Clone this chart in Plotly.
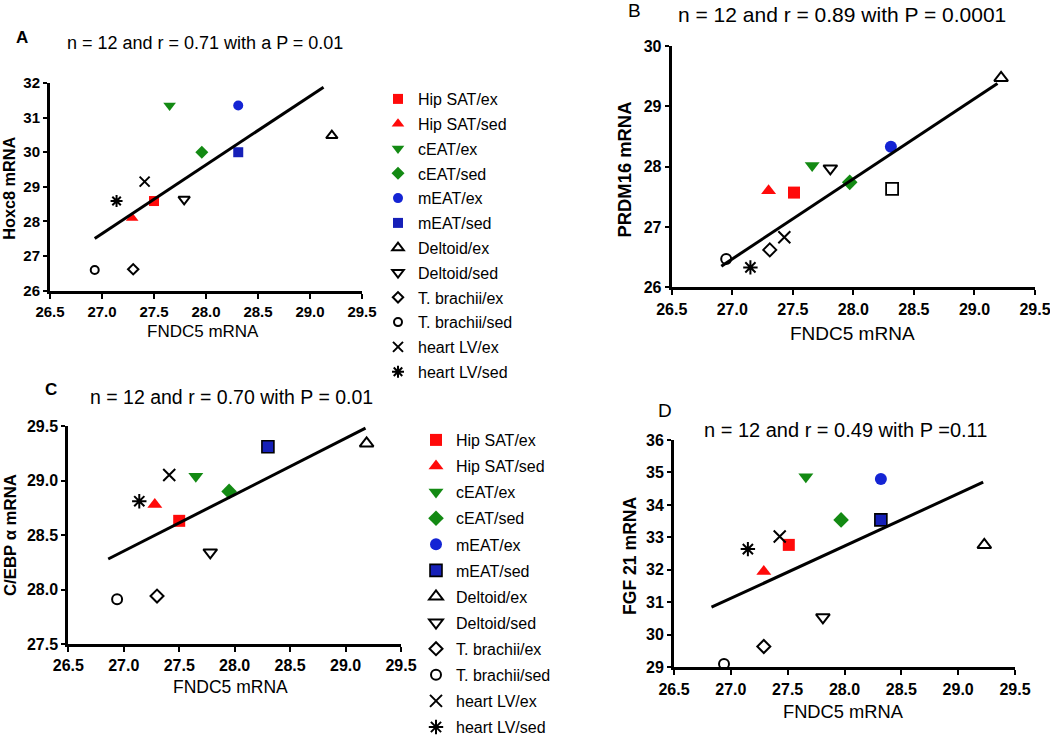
import plotly.graph_objects as go

W, H = 1050, 736
FONT = "Liberation Sans, Arial, sans-serif"

categories = ["Hip SAT/ex", "Hip SAT/sed", "cEAT/ex", "cEAT/sed", "mEAT/ex", "mEAT/sed",
              "Deltoid/ex", "Deltoid/sed", "T. brachii/ex", "T. brachii/sed",
              "heart LV/ex", "heart LV/sed"]

fndc5_A = [27.50, 27.29, 27.65, 27.96, 28.31, 28.31, 29.21, 27.79, 27.30, 26.93, 27.41, 27.14]
hoxc8_A = [28.59, 28.10, 31.35, 30.00, 31.35, 30.00, 30.48, 28.64, 26.62, 26.60, 29.15, 28.59]

fndc5_B = [27.51, 27.30, 27.66, 27.97, 28.31, 28.32, 29.22, 27.81, 27.31, 26.95, 27.43, 27.15]
prdm16_B = [27.57, 27.60, 28.02, 27.74, 28.33, 27.63, 29.47, 27.97, 26.62, 26.47, 26.83, 26.33]

fndc5_C = [27.50, 27.28, 27.65, 27.95, 28.30, 28.30, 29.19, 27.78, 27.30, 26.94, 27.41, 27.14]
cebpa_C = [28.63, 28.78, 29.04, 28.90, 29.31, 29.31, 29.34, 28.34, 27.94, 27.91, 29.05, 28.81]

fndc5_D = [27.51, 27.29, 27.66, 27.97, 28.32, 28.32, 29.23, 27.81, 27.29, 26.94, 27.43, 27.15]
fgf21_D = [32.77, 31.95, 34.87, 33.54, 34.80, 33.54, 32.77, 30.54, 29.64, 29.10, 33.03, 32.64]

fitA_x, fitA_y = [26.93, 29.13], [27.51, 31.88]
fitB_x, fitB_y = [26.91, 29.19], [26.35, 29.38]
fitC_x, fitC_y = [26.86, 29.18], [28.28, 29.48]
fitD_x, fitD_y = [26.83, 29.22], [30.85, 34.70]

titles = ["n = 12 and r = 0.71 with a P = 0.01",
          "n = 12 and r = 0.89 with P = 0.0001",
          "n = 12 and r = 0.70 with P = 0.01",
          "n = 12 and r = 0.49 with P =0.11"]
ytitles = ["Hoxc8 mRNA", "PRDM16 mRNA", "C/EBP \u03b1 mRNA", "FGF 21 mRNA"]
xtitle = "FNDC5 mRNA"
letters = ["A", "B", "C", "D"]

RED, GREEN, BLUE, BLUE2, BLK = "#ff0a0a", "#138a13", "#1424d4", "#1620b8", "#000000"
symbols = ["square", "triangle-up", "triangle-down", "diamond", "circle", "square",
           "triangle-up-open", "triangle-down-open", "diamond-open", "circle-open",
           "x-thin-open", "asterisk-open"]
colors = [RED, RED, GREEN, GREEN, BLUE, BLUE2, BLK, BLK, BLK, BLK, BLK, BLK]
TRI = ("triangle-up", "triangle-down")
OPEN_TRI = ("triangle-up-open", "triangle-down-open")
OPEN = ("diamond-open", "circle-open")


def px(x):
    return x / W


def py(y):
    return 1 - y / H


# panel geometry in pixels: (x_left, x_right, y_top, y_bottom)
panels = [
    dict(x=fndc5_A, y=hoxc8_A, fx=fitA_x, fy=fitA_y, xr=[26.5, 29.5], yr=[26, 32], ydt=1, yfmt="d",
         box=(50, 362, 83, 290.7), size=10, tick=15, msed="plain"),
    dict(x=fndc5_B, y=prdm16_B, fx=fitB_x, fy=fitB_y, xr=[26.5, 29.5], yr=[26, 30], ydt=1, yfmt="d",
         box=(671.7, 1035, 46, 287.3), size=12, tick=16, msed="open"),
    dict(x=fndc5_C, y=cebpa_C, fx=fitC_x, fy=fitC_y, xr=[26.5, 29.5], yr=[27.5, 29.5], ydt=0.5, yfmt=".1f",
         box=(68.3, 401, 426, 644), size=12, tick=16, msed="border"),
    dict(x=fndc5_D, y=fgf21_D, fx=fitD_x, fy=fitD_y, xr=[26.5, 29.5], yr=[29, 36], ydt=1, yfmt="d",
         box=(674, 1015, 440, 667.3), size=12, tick=16, msed="border"),
]

fig = go.Figure()
layout = {}
for p_i, p in enumerate(panels):
    ax = "" if p_i == 0 else str(p_i + 1)
    xref, yref = "x" + ax, "y" + ax
    for i, cat in enumerate(categories):
        sym, col = symbols[i], colors[i]
        lw = 2 if sym.endswith("open") else 0
        lcol = col
        if i == 5:
            if p["msed"] == "open":
                sym, col, lcol, lw = "square-open", BLK, BLK, 1.8
            elif p["msed"] == "border":
                lcol, lw = BLK, 1.6
        legend = None
        show = False
        if p_i == 0:
            legend, show = "legend", True
        elif p_i == 2:
            legend, show = "legend2", True
        if sym in TRI:
            size = p["size"] + 1
        elif sym in OPEN_TRI:
            size = p["size"]
        elif sym in OPEN:
            size = p["size"] - 2
        else:
            size = p["size"]
        tr = dict(x=[p["x"][i]], y=[p["y"][i]], mode="markers", name=cat,
                  marker=dict(symbol=sym, color=col, size=size, line=dict(color=lcol, width=lw)),
                  xaxis=xref, yaxis=yref, showlegend=show, cliponaxis=False,
                  legendgroup=f"g{p_i}_{i}")
        if legend:
            tr["legend"] = legend
        fig.add_trace(go.Scatter(**tr))
    fig.add_trace(go.Scatter(x=p["fx"], y=p["fy"], mode="lines", line=dict(color="black", width=3),
                             xaxis=xref, yaxis=yref, showlegend=False, hoverinfo="skip"))
    x0, x1, y0, y1 = p["box"]
    common = dict(showgrid=False, zeroline=False, showline=True, linewidth=3, linecolor="black",
                  ticks="outside", tickwidth=2, tickcolor="black", automargin=False,
                  ticklabeloverflow="allow",
                  tickfont=dict(family=FONT, size=p["tick"], color="black", weight="bold"))
    layout["xaxis" + ax] = dict(domain=[px(x0), px(x1)], range=p["xr"], anchor=yref, dtick=0.5,
                                tick0=26.5, tickformat=".1f", ticklen=5, **common)
    layout["yaxis" + ax] = dict(domain=[py(y1), py(y0)], range=p["yr"], anchor=xref, dtick=p["ydt"],
                                tickformat=p["yfmt"], ticklen=4, **common)

ann = []
# panel titles
for txt, (cx, cy, fs) in zip(titles, [(205, 43.3, 18), (841.7, 15, 21), (231.5, 396.7, 19.5), (845, 430, 20)]):
    ann.append(dict(text=txt, x=px(cx), y=py(cy), xref="paper", yref="paper", showarrow=False,
                    xanchor="center", yanchor="middle", font=dict(family=FONT, size=fs, color="black")))
# panel letters
for txt, (cx, cy, fs, wt) in zip(letters, [(22, 37.5, 17, "bold"), (634.5, 10, 19, "normal"),
                                          (50.5, 389, 17, "bold"), (665, 410, 19, "normal")]):
    ann.append(dict(text=txt, x=px(cx), y=py(cy), xref="paper", yref="paper", showarrow=False,
                    xanchor="center", yanchor="middle", font=dict(family=FONT, size=fs, color="black", weight=wt)))
# x axis titles
for cx, cy, fs in [(203, 331.7, 17), (852.5, 333.3, 19), (230.8, 686.7, 17.5), (843.3, 711.7, 18.3)]:
    ann.append(dict(text=xtitle, x=px(cx), y=py(cy), xref="paper", yref="paper", showarrow=False,
                    xanchor="center", yanchor="middle", font=dict(family=FONT, size=fs, color="black")))
# y axis titles
for txt, (cx, cy, fs) in zip(ytitles, [(9.5, 188.3, 16.3), (624.5, 170, 18.4), (10, 535, 16.8), (630, 556, 17.6)]):
    ann.append(dict(text=txt, x=px(cx), y=py(cy), xref="paper", yref="paper", showarrow=False,
                    textangle=-90, xanchor="center", yanchor="middle",
                    font=dict(family=FONT, size=fs, color="black", weight="bold")))

layout.update(
    width=W, height=H, margin=dict(l=0, r=0, t=0, b=0, autoexpand=False),
    plot_bgcolor="white", paper_bgcolor="white",
    annotations=ann, showlegend=True,
    legend=dict(x=px(378), y=py(82), xanchor="left", yanchor="top", traceorder="grouped",
                tracegroupgap=1, font=dict(family=FONT, size=16, color="black"), bgcolor="rgba(0,0,0,0)"),
    legend2=dict(x=px(416), y=py(423), xanchor="left", yanchor="top", traceorder="grouped",
                 tracegroupgap=2.3, font=dict(family=FONT, size=16, color="black"), bgcolor="rgba(0,0,0,0)"),
)
fig.update_layout(**layout)
fig.write_html("out.html", config={"displayModeBar": False},
               post_script="document.body.style.margin='0';document.body.style.overflow='hidden';")
